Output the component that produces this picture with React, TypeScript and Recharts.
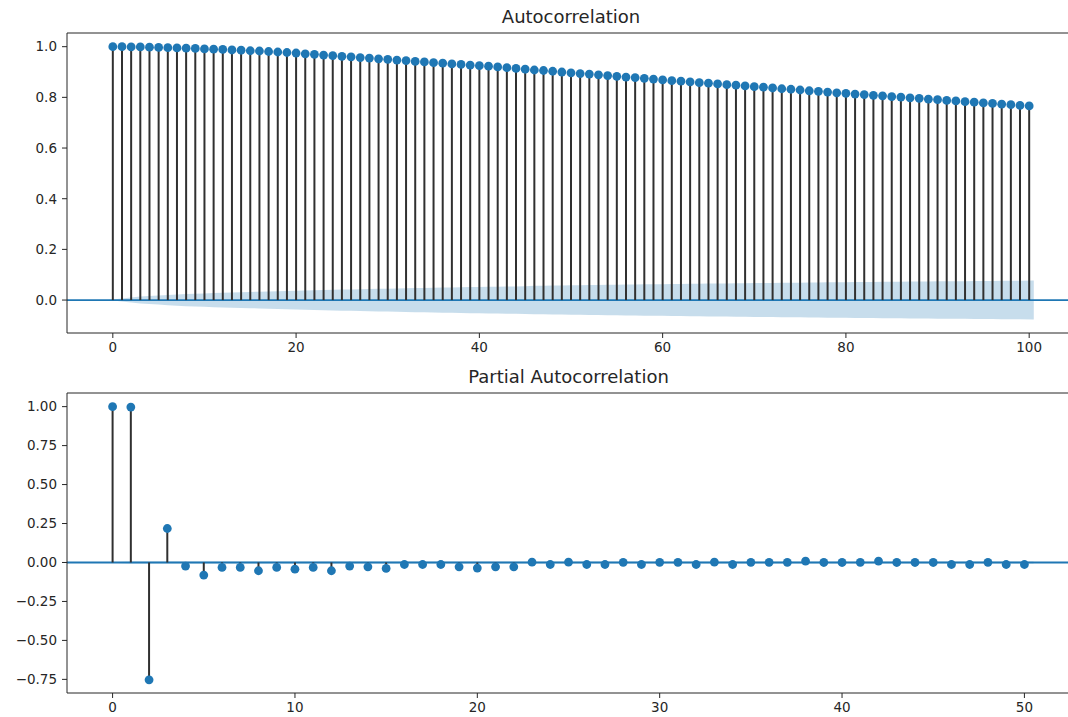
import { Area, ComposedChart, ErrorBar, ReferenceLine, Scatter, XAxis, YAxis } from "recharts";

const acfValues = [
  1.0, 1.0, 0.999, 0.999, 0.998, 0.997, 0.996, 0.995, 0.994, 0.993,
  0.991, 0.99, 0.989, 0.987, 0.986, 0.984, 0.983, 0.981, 0.979, 0.977,
  0.975, 0.972, 0.97, 0.967, 0.965, 0.962, 0.96, 0.957, 0.955, 0.952,
  0.95, 0.947, 0.945, 0.942, 0.94, 0.937, 0.935, 0.932, 0.93, 0.927,
  0.925, 0.923, 0.92, 0.917, 0.914, 0.911, 0.908, 0.906, 0.903, 0.9,
  0.897, 0.894, 0.892, 0.889, 0.886, 0.883, 0.88, 0.878, 0.875, 0.872,
  0.869, 0.866, 0.864, 0.861, 0.858, 0.856, 0.853, 0.85, 0.848, 0.845,
  0.842, 0.84, 0.837, 0.834, 0.832, 0.829, 0.826, 0.824, 0.821, 0.818,
  0.816, 0.813, 0.811, 0.808, 0.806, 0.803, 0.801, 0.798, 0.796, 0.793,
  0.791, 0.788, 0.786, 0.783, 0.781, 0.778, 0.776, 0.773, 0.771, 0.768,
  0.766,
];

// half-width of the shaded confidence band, per lag
const acfConfidence = [
  0, 0.006, 0.01, 0.014, 0.016, 0.018, 0.02, 0.022, 0.024, 0.025,
  0.026, 0.028, 0.029, 0.03, 0.031, 0.032, 0.033, 0.034, 0.035, 0.036,
  0.037, 0.038, 0.039, 0.04, 0.041, 0.042, 0.042, 0.043, 0.044, 0.045,
  0.045, 0.046, 0.047, 0.048, 0.048, 0.049, 0.05, 0.05, 0.051, 0.052,
  0.052, 0.053, 0.053, 0.054, 0.054, 0.055, 0.056, 0.056, 0.057, 0.057,
  0.058, 0.058, 0.059, 0.059, 0.06, 0.06, 0.061, 0.061, 0.062, 0.062,
  0.062, 0.063, 0.063, 0.064, 0.064, 0.065, 0.065, 0.065, 0.066, 0.066,
  0.067, 0.067, 0.067, 0.068, 0.068, 0.068, 0.069, 0.069, 0.07, 0.07,
  0.07, 0.071, 0.071, 0.071, 0.072, 0.072, 0.072, 0.073, 0.073, 0.073,
  0.074, 0.074, 0.074, 0.074, 0.075, 0.075, 0.075, 0.076, 0.076, 0.076,
  0.077,
];

const pacfValues = [
  1.0, 0.997, -0.753, 0.218, -0.023, -0.081, -0.032, -0.032, -0.053, -0.032,
  -0.043, -0.032, -0.053, -0.023, -0.028, -0.038, -0.013, -0.013, -0.013, -0.028,
  -0.036, -0.028, -0.028, 0.002, -0.013, 0.002, -0.013, -0.013, 0.001, -0.013,
  0.001, 0.001, -0.013, 0.002, -0.013, 0.001, 0.001, 0.001, 0.009, 0.0,
  0.0, 0.001, 0.009, 0.0, 0.0, 0.0, -0.013, -0.013, 0.001, -0.013,
  -0.013,
];
const pacfConfidence = 0.0061;

const acfLagTicks = [0, 20, 40, 60, 80, 100];
const acfValueTicks = [0, 0.2, 0.4, 0.6, 0.8, 1.0];
const pacfLagTicks = [0, 10, 20, 30, 40, 50];
const pacfValueTicks = [-0.75, -0.5, -0.25, 0, 0.25, 0.5, 0.75, 1.0];

const BLUE = "#1f77b4";
const INK = "#262626";
const FONT = "'DejaVu Sans', sans-serif";

function toRows(values: number[], confidence: (lag: number) => number) {
  const last = values.length - 1;
  return values.map((value, lag) => ({
    lag,
    // statsmodels widens the band by half a lag at both ends
    bandLag: lag === 0 ? -0.5 : lag === last ? last + 0.5 : lag,
    value,
    stem: value >= 0 ? [value, 0] : [0, -value],
    band: [-confidence(lag), confidence(lag)],
  }));
}

const dot = (props: any) => <circle cx={props.cx} cy={props.cy} r={4.4} fill={BLUE} />;

type PanelProps = {
  title: string;
  top: number;
  right: number;
  rows: ReturnType<typeof toRows>;
  xDomain: [number, number];
  xTicks: number[];
  yDomain: [number, number];
  yTicks: number[];
  digits: number;
};

function StemPanel({ title, top, right, rows, xDomain, xTicks, yDomain, yTicks, digits }: PanelProps) {
  const tick = { fill: INK, fontSize: 13.5, fontFamily: FONT };
  return (
    <div style={{ position: "absolute", left: 0, top, width: 1090, height: 365 }}>
      <div style={{ position: "absolute", left: 67, top: 7, width: 1090 - right - 67, textAlign: "center", fontSize: 18, lineHeight: "20px", color: INK }}>
        {title}
      </div>
      <ComposedChart width={1090} height={365} data={rows} margin={{ top: 33, right, bottom: 2, left: 0 }}>
        <XAxis dataKey="lag" type="number" domain={xDomain} ticks={xTicks} interval={0} allowDataOverflow
          height={30} tickSize={5} tickMargin={4} tick={tick} stroke={INK} />
        <XAxis xAxisId="band" dataKey="bandLag" type="number" domain={xDomain} allowDataOverflow hide />
        <YAxis type="number" domain={yDomain} ticks={yTicks} interval={0} allowDataOverflow width={67}
          tickSize={5} tickMargin={5} tick={tick} stroke={INK}
          tickFormatter={(v: number) => v.toFixed(digits).replace("-", "\u2212")} />
        {/* top spine */}
        <ReferenceLine y={yDomain[1]} stroke={INK} strokeWidth={1} />
        <ReferenceLine y={0} stroke={BLUE} strokeWidth={1.8} />
        <Scatter dataKey="value" shape={dot} isAnimationActive={false}>
          <ErrorBar dataKey="stem" direction="y" width={0} stroke="#303030" strokeWidth={2} isAnimationActive={false} />
        </Scatter>
        <Area xAxisId="band" dataKey="band" type="linear" stroke="none" fill={BLUE} fillOpacity={0.25} isAnimationActive={false} />
      </ComposedChart>
    </div>
  );
}

export default function App() {
  const acfRows = toRows(acfValues, (lag) => acfConfidence[lag]);
  const pacfRows = toRows(pacfValues, (lag) => (lag === 0 ? 0 : pacfConfidence));
  return (
    <div style={{ position: "fixed", inset: 0, overflow: "hidden", background: "#fff", fontFamily: FONT }}>
      <StemPanel title="Autocorrelation" top={0} right={15} rows={acfRows} xDomain={[-5, 105]} xTicks={acfLagTicks}
        yDomain={[-0.13, 1.054]} yTicks={acfValueTicks} digits={1} />
      <StemPanel title="Partial Autocorrelation" top={360} right={20} rows={pacfRows} xDomain={[-2.5, 52.5]} xTicks={pacfLagTicks}
        yDomain={[-0.8375, 1.0875]} yTicks={pacfValueTicks} digits={2} />
    </div>
  );
}
